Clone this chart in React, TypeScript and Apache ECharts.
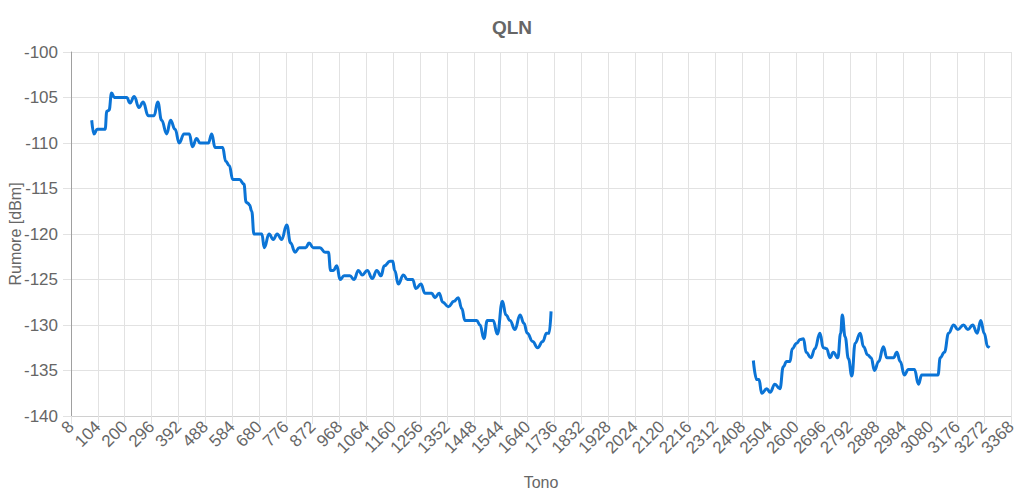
import React, { useEffect, useRef } from "react";
import * as echarts from "echarts";

const TITLE = "QLN";
const X_NAME = "Tono";
const Y_NAME = "Rumore [dBm]";
const X_MIN = 8;
const X_MAX = 3368;
const X_STEP = 96;
const Y_MIN = -140;
const Y_MAX = -100;
const Y_STEP = 5;

const seg1Tones = [
  82, 90, 102, 130, 136, 144, 153, 163, 207, 219, 234, 251, 266, 284, 305, 318, 332, 350, 364, 380,
  395, 412, 431, 442, 457, 469, 499, 511, 523, 550, 561, 574, 586, 610, 626, 634, 640, 646, 654, 662,
  690, 699, 716, 731, 745, 761, 779, 793, 809, 824, 847, 859, 874, 898, 916, 928, 936, 946, 958, 970,
  984, 1005, 1020, 1035, 1049, 1067, 1085, 1101, 1116, 1128, 1148, 1158, 1165, 1178, 1196, 1210, 1229, 1241, 1259, 1273,
  1297, 1309, 1324, 1337, 1357, 1377, 1392, 1405, 1416, 1458, 1470, 1484, 1496, 1517, 1532, 1550, 1563, 1577, 1595, 1613,
  1627, 1639, 1658, 1676, 1694, 1708, 1717, 1724,
];
const seg1Values = [
  -107.5, -109, -108.5, -108.5, -106.5, -106.4, -104.5, -105, -105, -105.6, -104.9, -106.1, -105.5, -107, -107, -105.5, -107.5, -109, -107.5, -108.5,
  -110, -109, -109, -110.4, -109.5, -110, -110, -109, -110.5, -110.5, -112, -112.5, -114, -114, -114.5, -116.5, -116.6, -116.8, -117.5, -120,
  -120, -121.5, -120, -120.6, -120, -120.6, -119, -121, -122, -121.5, -121.5, -121, -121.5, -121.5, -122, -122, -124, -124, -123.5, -125,
  -124.6, -124.6, -125, -124, -124.5, -124, -124.9, -124, -124.6, -123.5, -123, -123, -124, -125.5, -124.5, -125, -125, -126, -125.5, -126.5,
  -126.5, -127, -126.5, -127.5, -128, -127.4, -127, -128.2, -129.5, -129.5, -130, -131.5, -129.5, -129.5, -131, -127.4, -128.9, -129.5, -130.5, -128.9,
  -129.8, -130.9, -131.8, -132.5, -131.8, -130.9, -130.9, -128.5,
];

const seg2Tones = [
  2447, 2459, 2467, 2477, 2495, 2507, 2524, 2542, 2554, 2566, 2578, 2586, 2602, 2614, 2626, 2636, 2653, 2667, 2685, 2697,
  2709, 2721, 2733, 2749, 2759, 2765, 2775, 2787, 2799, 2811, 2829, 2841, 2856, 2868, 2880, 2895, 2912, 2924, 2948, 2960,
  2972, 2987, 3001, 3023, 3037, 3049, 3107, 3115, 3130, 3145, 3163, 3178, 3198, 3214, 3231, 3247, 3260, 3272, 3285, 3291,
];
const seg2Values = [
  -133.9, -136, -136, -137.5, -137, -137.4, -136.5, -137, -134.6, -134, -134, -132.6, -132, -131.6, -131.5, -133, -133.6, -132.6, -130.9, -132.5,
  -132.6, -133.6, -133, -133.6, -130.9, -128.9, -131.3, -133.7, -135.6, -132, -130.9, -132.4, -133.3, -133.6, -135, -134, -132.4, -133.6, -133.6, -133,
  -134, -135.5, -134.9, -134.9, -136.5, -135.5, -135.5, -133.6, -133, -130.9, -130, -130.5, -130, -130.5, -130, -130.9, -129.5, -130.9, -132.4, -132.5,
];

const FONT = "Liberation Sans, Arial, Helvetica, sans-serif";
const LINE_COLOR = "#0b74d6";
const TEXT_COLOR = "#666666";
const GRID_COLOR = "#e2e2e2";

function pairs(xs: number[], ys: number[]) {
  return xs.map((x, i) => [x, ys[i]]);
}

export default function App() {
  const ref = useRef<HTMLDivElement>(null);
  useEffect(() => {
    if (!ref.current) return;
    const chart = echarts.init(ref.current, undefined, { renderer: "svg" });
    const lineSeries = (data: number[][]) => ({
      type: "line",
      data,
      showSymbol: false,
      symbol: "none",
      smooth: 0.45,
      smoothMonotone: "x",
      lineStyle: { color: LINE_COLOR, width: 3 },
      itemStyle: { color: LINE_COLOR },
    });
    chart.setOption({
      animation: false,
      textStyle: { fontFamily: FONT },
      title: {
        text: TITLE,
        left: "center",
        top: 13,
        textStyle: { fontFamily: FONT, fontSize: 19, fontWeight: "bold", color: TEXT_COLOR },
      },
      grid: { left: 71, right: 13, top: 52, bottom: 82, outerBoundsMode: "none", containLabel: false },
      xAxis: {
        type: "value",
        min: X_MIN,
        max: X_MAX,
        interval: X_STEP,
        name: X_NAME,
        nameLocation: "middle",
        nameGap: 58,
        nameMoveOverlap: false,
        nameTextStyle: { fontFamily: FONT, fontSize: 16, color: TEXT_COLOR },
        axisLine: { show: true, lineStyle: { color: "#d0d0d0", width: 1 } },
        axisTick: { show: true, length: 8, lineStyle: { color: GRID_COLOR } },
        axisLabel: {
          rotate: 45,
          fontSize: 17,
          color: TEXT_COLOR,
          fontFamily: FONT,
          margin: 8,
          formatter: (v: number) => String(v),
        },
        splitLine: { show: true, lineStyle: { color: GRID_COLOR, width: 1 } },
      },
      yAxis: {
        type: "value",
        min: Y_MIN,
        max: Y_MAX,
        interval: Y_STEP,
        name: Y_NAME,
        nameLocation: "middle",
        nameGap: 48,
        nameMoveOverlap: false,
        nameTextStyle: { fontFamily: FONT, fontSize: 16, color: TEXT_COLOR },
        axisLine: { show: true, lineStyle: { color: "#a0a0a0", width: 1 } },
        axisTick: { show: true, length: 8, lineStyle: { color: GRID_COLOR } },
        axisLabel: { fontSize: 17, color: TEXT_COLOR, fontFamily: FONT, margin: 13 },
        splitLine: { show: true, lineStyle: { color: GRID_COLOR, width: 1 } },
      },
      series: [lineSeries(pairs(seg1Tones, seg1Values)), lineSeries(pairs(seg2Tones, seg2Values))],
    });
    return () => chart.dispose();
  }, []);
  return (
    <div
      ref={ref}
      style={{ position: "fixed", left: 0, top: 0, width: 1024, height: 498, background: "#ffffff" }}
    />
  );
}
